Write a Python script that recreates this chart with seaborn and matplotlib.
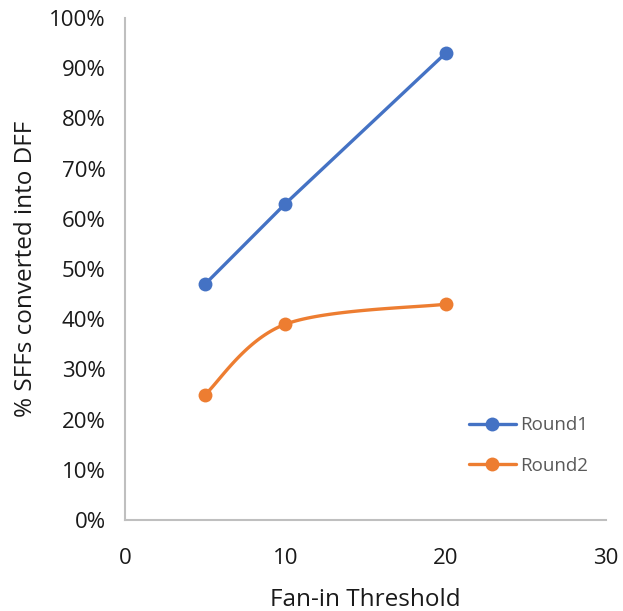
import numpy as np
import pandas as pd
import matplotlib
matplotlib.use("Agg")
import matplotlib.pyplot as plt
import seaborn as sns
from matplotlib.lines import Line2D
from matplotlib.ticker import FuncFormatter

# Data
fan_in = [5, 10, 20]
round1 = [47, 63, 93]
round2 = [25, 39, 43]
series_names = ["Round1", "Round2"]
colors = ["#4472C4", "#ED7D31"]
x_ticks = [0, 10, 20, 30]
y_ticks = [0, 10, 20, 30, 40, 50, 60, 70, 80, 90, 100]

sns.set_style("white")
plt.rcParams['font.family'] = ['Open Sans', 'DejaVu Sans']


def excel_smooth(xs, ys, n=40):
    xs = np.asarray(xs, float); ys = np.asarray(ys, float)
    px = np.concatenate([[xs[0]], xs, [xs[-1]]])
    py = np.concatenate([[ys[0]], ys, [ys[-1]]])
    ox, oy = [], []
    t = np.linspace(0, 1, n)
    for i in range(1, len(px) - 2):
        p0 = np.array([px[i], py[i]]); p3 = np.array([px[i + 1], py[i + 1]])
        c1 = p0 + (np.array([px[i + 1], py[i + 1]]) - np.array([px[i - 1], py[i - 1]])) / 6
        c2 = p3 - (np.array([px[i + 2], py[i + 2]]) - np.array([px[i], py[i]])) / 6
        b = ((1 - t) ** 3)[:, None] * p0 + (3 * (1 - t) ** 2 * t)[:, None] * c1 \
            + (3 * (1 - t) * t ** 2)[:, None] * c2 + (t ** 3)[:, None] * p3
        ox.extend(b[:, 0]); oy.extend(b[:, 1])
    return ox, oy


fig = plt.figure(figsize=(6.23, 6.11), dpi=100)
ax = fig.add_axes([0.2006, 0.1489, 0.7721, 0.8216])

df1 = pd.DataFrame({"x": fan_in, "y": round1})
sns.lineplot(data=df1, x="x", y="y", ax=ax, color=colors[0], lw=2.4,
             marker="o", markersize=10, markeredgewidth=0, sort=False)

sx, sy = excel_smooth(fan_in, round2)
df2s = pd.DataFrame({"x": sx, "y": sy})
sns.lineplot(data=df2s, x="x", y="y", ax=ax, color=colors[1], lw=2.4, sort=False,
             estimator=None)
df2 = pd.DataFrame({"x": fan_in, "y": round2})
sns.scatterplot(data=df2, x="x", y="y", ax=ax, color=colors[1], s=100,
                linewidth=0, zorder=3)

ax.set_xlim(0, 30)
ax.set_ylim(0, 100)
ax.set_xticks(x_ticks)
ax.set_yticks(y_ticks)
ax.yaxis.set_major_formatter(FuncFormatter(lambda v, p: f"{int(v)}%"))
ax.tick_params(axis='both', length=0, labelsize=16, colors="#1a1a1a")
ax.tick_params(axis='x', pad=20)
ax.tick_params(axis='y', pad=14)
for s in ["top", "right"]:
    ax.spines[s].set_visible(False)
for s in ["left", "bottom"]:
    ax.spines[s].set_color("#BFBFBF")
    ax.spines[s].set_linewidth(1.5)
ax.set_xlabel("Fan-in Threshold", fontsize=17.5, color="#1a1a1a", labelpad=14)
ax.set_ylabel("% SFFs converted into DFF", fontsize=17.5, color="#1a1a1a", labelpad=8)

handles = [Line2D([0], [0], color=c, lw=2.4, marker="o", markersize=10,
                  markeredgewidth=0) for c in colors]
leg = ax.legend(handles, series_names, loc="center left",
                bbox_to_anchor=(0.68, 0.148), frameon=False, fontsize=13.5,
                handlelength=2.5, handletextpad=0.25, labelspacing=1.2,
                labelcolor="#595959")

fig.savefig("out.png", dpi=100)
